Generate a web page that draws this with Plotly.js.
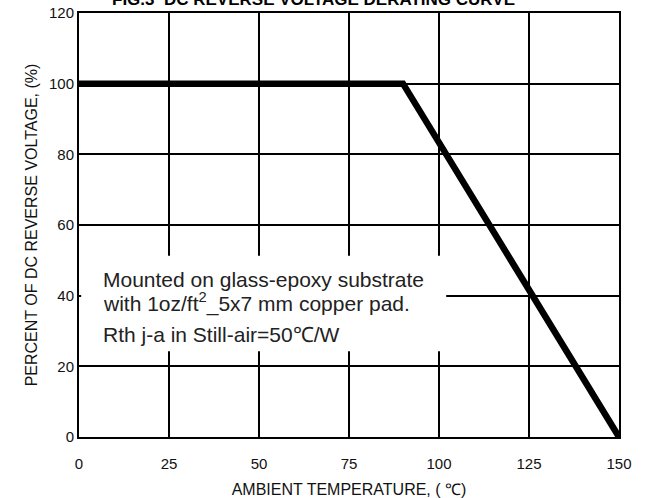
<!DOCTYPE html>
<html>
<head>
<meta charset="utf-8">
<script src="https://cdn.plot.ly/plotly-3.0.1.min.js"></script>
<style>html,body{margin:0;padding:0;background:#fff;}#chart{width:648px;height:498px;}</style>
</head>
<body>
<div id="chart"></div>
<script>
// Derating curve data
const temperature = [0, 90, 150];
const percentVoltage = [100, 100, 0];
const xTicks = [0, 25, 50, 75, 100, 125, 150];
const yTicks = [0, 20, 40, 60, 80, 100, 120];
const titleText = "FIG.3  DC REVERSE VOLTAGE DERATING CURVE";
const xTitle = "AMBIENT TEMPERATURE, ( ℃)";
const yTitle = "PERCENT OF DC REVERSE VOLTAGE, (%)";
const noteLines = ["Mounted on glass-epoxy substrate", "with 1oz/ft<sup>2</sup>_5x7 mm copper pad.", "Rth j-a in Still-air=50℃/W"];

const font = "Arial, 'Liberation Sans', sans-serif";

const trace = {
  x: temperature, y: percentVoltage, type: 'scatter', mode: 'lines',
  line: {color: '#000', width: 6.5}, cliponaxis: false, hoverinfo: 'skip'
};

const axisCommon = {
  showline: true, linecolor: '#000', linewidth: 2, mirror: true,
  showgrid: true, gridcolor: '#000', gridwidth: 1.8,
  zeroline: false, ticks: '', tickfont: {family: font, size: 15, color: '#111'}
};

const layout = {
  width: 648, height: 498,
  margin: {l: 79, r: 29, t: 13, b: 61},
  paper_bgcolor: '#fff', plot_bgcolor: '#fff',
  showlegend: false,
  xaxis: Object.assign({}, axisCommon, {
    range: [0, 150], tickvals: xTicks, ticktext: xTicks.map(String), ticklabelstandoff: 12,
    automargin: false,
    title: {text: xTitle, font: {family: font, size: 16, color: '#111'}, standoff: 13}
  }),
  yaxis: Object.assign({}, axisCommon, {
    range: [0, 120], tickvals: yTicks, ticktext: yTicks.map(String),
    automargin: false,
    title: {text: yTitle, font: {family: font, size: 16, color: '#111'}, standoff: 7}
  }),
  shapes: [{
    type: 'rect', xref: 'x', yref: 'y', x0: 0.6, x1: 102, y0: 24.3, y1: 51.3,
    fillcolor: '#fff', line: {width: 0}, layer: 'above'
  }],
  annotations: [
    {text: '<b>' + titleText + '</b>', xref: 'paper', yref: 'paper', x: 0.435, y: 1.005,
     xanchor: 'center', yanchor: 'bottom', showarrow: false,
     font: {family: font, size: 17, color: '#000'}},
    {text: noteLines[0], xref: 'x', yref: 'y', x: 6, y: 44.5, xanchor: 'left', yanchor: 'middle',
     showarrow: false, font: {family: font, size: 21, color: '#222'}},
    {text: noteLines[1], xref: 'x', yref: 'y', x: 6, y: 38, xanchor: 'left', yanchor: 'middle',
     showarrow: false, font: {family: font, size: 21, color: '#222'}},
    {text: noteLines[2], xref: 'x', yref: 'y', x: 6, y: 29, xanchor: 'left', yanchor: 'middle',
     showarrow: false, font: {family: font, size: 21, color: '#222'}}
  ]
};

Plotly.newPlot('chart', [trace], layout, {staticPlot: true, displayModeBar: false});
</script>
</body>
</html>
